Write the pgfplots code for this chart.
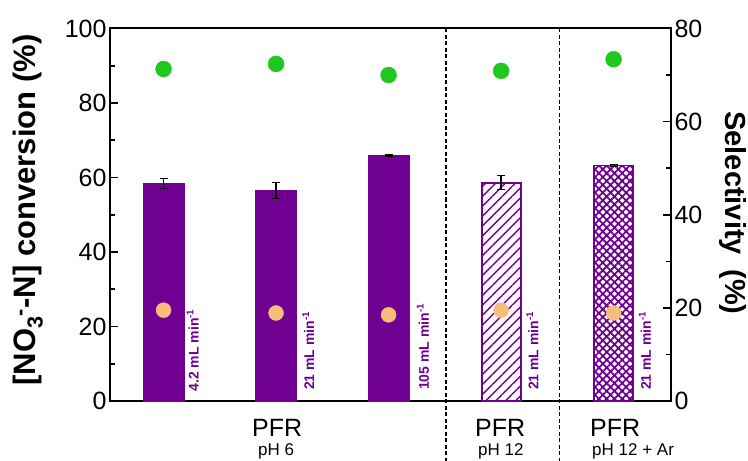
\documentclass[border=0pt]{standalone}
\usepackage{pgfplots}
\pgfplotsset{compat=1.18}
\usepackage{fontspec}
\setmainfont{Liberation Sans}
\usetikzlibrary{patterns,patterns.meta}
\definecolor{pur}{RGB}{112,0,146}
\definecolor{grn}{RGB}{30,200,30}
\definecolor{org}{RGB}{246,190,122}
\tikzset{lab/.style={rotate=90, anchor=north west, inner sep=0pt, text=pur, font=\bfseries\fontsize{14}{14}\selectfont}}
\begin{document}
\begin{tikzpicture}
\pgfplotsset{
 base/.style={scale only axis, width=561pt, height=372.5pt, at={(0pt,0pt)}, anchor=south west,
   xmin=-0.476, xmax=4.51, clip=false,
   /pgf/number format/assume math mode=true,
   tick label style={font=\fontsize{25}{25}\selectfont},
   axis line style={line width=2pt},
   major tick length=8pt, minor tick length=5pt, tick align=inside,
   every tick/.style={line width=1.6pt, black}},
 ebar/.style={error bars/.cd, y dir=both, y explicit,
   error bar style={line width=1.4pt, black, solid},
   error mark options={rotate=90, mark size=4pt, line width=1.4pt, black, solid}}
}
\begin{axis}[base, ymin=0, ymax=100, ytick={0,20,...,100}, minor ytick={10,30,50,70,90},
  ytick pos=left, xtick=\empty]
\addplot[ybar, bar width=41pt, bar shift=0pt, fill=pur, draw=pur, ebar]
  coordinates {(0,58.4) +- (0,1.3) (1,56.5) +- (0,2.1) (2,66.0) +- (0,0.2)};
\addplot[ybar, bar width=39pt, bar shift=0pt, draw=pur, line width=1.8pt,
  pattern={Lines[angle=45,distance=7pt,line width=1.4pt]}, pattern color=pur, ebar]
  coordinates {(3,58.6) +- (0,1.9)};
\addplot[ybar, bar width=39pt, bar shift=0pt, draw=pur, line width=1.8pt,
  pattern={Hatch[angle=45,distance=5.5pt,line width=1.8pt]}, pattern color=pur, ebar]
  coordinates {(4,63.2) +- (0,0.3)};
\draw[black, line width=1.6pt, dash pattern=on 4pt off 2.5pt] (axis cs:2.51,100) -- (axis cs:2.51,-17);
\draw[black, line width=1.6pt, dash pattern=on 4pt off 2.5pt] (axis cs:3.52,100) -- (axis cs:3.52,-17);
\node[lab] at ([xshift=23pt]axis cs:0,2.5) {4.2 mL min\textsuperscript{-1}};
\node[lab] at ([xshift=26pt]axis cs:1,2.9) {21 mL min\textsuperscript{-1}};
\node[lab] at ([xshift=28pt]axis cs:2,2.9) {105 mL min\textsuperscript{-1}};
\node[lab] at ([xshift=25pt]axis cs:3,2.9) {21 mL min\textsuperscript{-1}};
\node[lab] at ([xshift=25pt]axis cs:4,2.9) {21 mL min\textsuperscript{-1}};
\end{axis}
\begin{axis}[base, ymin=0, ymax=80, axis y line*=right, axis x line=none,
  ytick={0,20,...,80}, minor ytick={10,30,50,70}]
\addplot[only marks, mark=*, mark size=8pt, mark options={draw=grn, fill=grn}]
  coordinates {(0,71.3) (1,72.4) (2,70.0) (3,70.9) (4,73.4)};
\addplot[only marks, mark=*, mark size=7.5pt, mark options={draw=org, fill=org}]
  coordinates {(0,19.5) (1,18.9) (2,18.5) (3,19.5) (4,18.9)};
\end{axis}
\node[rotate=90, anchor=south, inner sep=0pt, font=\bfseries\fontsize{31}{31}\selectfont] at (-67pt,191pt) {[NO\textsubscript{3}\textsuperscript{-}-N] conversion (\%)};
\node[rotate=-90, anchor=north, inner sep=0pt, font=\bfseries\fontsize{29}{29}\selectfont] at (637pt,188pt) {Selectivity\hspace{0.5em}(\%)};
\node[anchor=base west, inner sep=0pt, font=\fontsize{25}{25}\selectfont] at (142pt,-35pt) {PFR};
\node[anchor=base west, inner sep=0pt, font=\fontsize{17}{17}\selectfont] at (148pt,-55pt) {pH 6};
\node[anchor=base west, inner sep=0pt, font=\fontsize{25}{25}\selectfont] at (365pt,-35pt) {PFR};
\node[anchor=base west, inner sep=0pt, font=\fontsize{17}{17}\selectfont] at (368pt,-55pt) {pH 12};
\node[anchor=base west, inner sep=0pt, font=\fontsize{25}{25}\selectfont] at (480pt,-35pt) {PFR};
\node[anchor=base west, inner sep=0pt, font=\fontsize{17}{17}\selectfont] at (482pt,-55pt) {pH 12 + Ar};
\pgfresetboundingbox
\path (-110pt,-60pt) rectangle (638pt,401pt);
\end{tikzpicture}
\end{document}
